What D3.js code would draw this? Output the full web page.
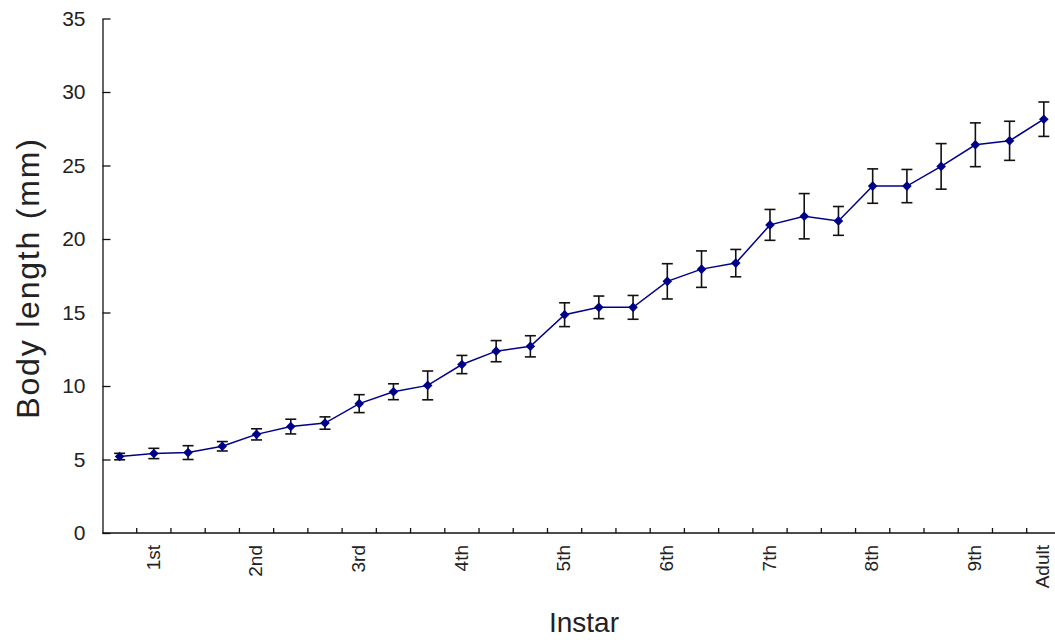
<!DOCTYPE html>
<meta charset="utf-8">
<style>
  body { margin: 0; background: #fff; }
  text { font-family: "Liberation Sans", Arial, sans-serif; fill: #222; }
</style>
<body>
<script src="https://cdn.jsdelivr.net/npm/d3@7/dist/d3.min.js"></script>
<script>

    // instar labels, one per measurement (blank = no label)
    var labels = ["", "1st", "", "", "2nd", "", "", "3rd", "", "", "4th", "", "", "5th",
                  "", "", "6th", "", "", "7th", "", "", "8th", "", "", "9th", "", "Adult"];

    // mean body length (mm)
    var means = [5.20, 5.41, 5.47, 5.90, 6.71, 7.24, 7.48, 8.80, 9.61, 10.04,
                 11.46, 12.37, 12.70, 14.85, 15.35, 15.35, 17.12, 17.95, 18.36, 20.96,
                 21.55, 21.23, 23.60, 23.60, 24.94, 26.41, 26.68, 28.15];

    // standard deviation
    var errors = [0.22, 0.35, 0.47, 0.32, 0.38, 0.50, 0.42, 0.61, 0.54, 0.98,
                  0.62, 0.72, 0.72, 0.81, 0.77, 0.81, 1.20, 1.24, 0.93, 1.05,
                  1.54, 0.98, 1.17, 1.13, 1.55, 1.49, 1.33, 1.17];

    var yTicks = [0, 5, 10, 15, 20, 25, 30, 35];

    var width = 1055, height = 640;
    var plotLeft = 102.5, plotTop = 18.5, plotBottom = 533;
    var step = 34.23;

    var data = means.map(function (m, i) {
        return {i: i, label: labels[i], mean: m, err: errors[i]};
    });

    var svg = d3.select("body").append("svg")
        .attr("width", width)
        .attr("height", height);

    var x = d3.scaleBand()
        .domain(d3.range(means.length))
        .range([plotLeft, plotLeft + step * means.length])
        .padding(0);

    var y = d3.scaleLinear()
        .domain([0, 35])
        .range([plotBottom, plotTop]);

    // y axis, ticks inward
    var yAxis = svg.append("g")
        .attr("transform", "translate(" + plotLeft + ",0)")
        .call(d3.axisLeft(y).tickValues(yTicks).tickSize(-8).tickPadding(17).tickSizeOuter(0));
    yAxis.select(".domain").attr("stroke", "#111").attr("stroke-width", 1.3);
    yAxis.selectAll(".tick line").attr("stroke", "#111").attr("stroke-width", 1.3);
    yAxis.selectAll(".tick text")
        .attr("font-size", 21)
        .attr("font-family", "Liberation Sans, Arial, sans-serif")
        .attr("fill", "#222");

    // x axis: line + inward ticks at band boundaries
    svg.append("line")
        .attr("x1", plotLeft).attr("x2", width)
        .attr("y1", plotBottom).attr("y2", plotBottom)
        .attr("stroke", "#111").attr("stroke-width", 1.3);

    svg.append("g").selectAll("line")
        .data(d3.range(1, means.length))
        .enter().append("line")
        .attr("x1", function (d) { return x(d); })
        .attr("x2", function (d) { return x(d); })
        .attr("y1", plotBottom)
        .attr("y2", plotBottom - 5)
        .attr("stroke", "#111")
        .attr("stroke-width", 1.3);

    svg.append("g").selectAll("text")
        .data(data.filter(function (d) { return d.label !== ""; }))
        .enter().append("text")
        .attr("transform", function (d) {
            return "translate(" + (x(d.i) + x.bandwidth() / 2 - 1) + "," + (plotBottom + 12) + ") rotate(-90)";
        })
        .attr("text-anchor", "end")
        .attr("dy", "0.35em")
        .attr("font-size", 19)
        .text(function (d) { return d.label; });

    // axis titles
    svg.append("text")
        .attr("transform", "translate(39,278) rotate(-90)")
        .attr("text-anchor", "middle")
        .attr("font-size", 32)
        .attr("letter-spacing", 1.8)
        .text("Body length (mm)");

    svg.append("text")
        .attr("x", 584)
        .attr("y", 632)
        .attr("text-anchor", "middle")
        .attr("font-size", 28)
        .text("Instar");

    var cx = function (d) { return x(d.i) + x.bandwidth() / 2; };

    // error bars
    var eb = svg.append("g").attr("stroke", "#111").attr("stroke-width", 1.6);
    eb.selectAll(".v").data(data).enter().append("line")
        .attr("x1", cx).attr("x2", cx)
        .attr("y1", function (d) { return y(d.mean - d.err); })
        .attr("y2", function (d) { return y(d.mean + d.err); });
    eb.selectAll(".top").data(data).enter().append("line")
        .attr("x1", function (d) { return cx(d) - 5.5; })
        .attr("x2", function (d) { return cx(d) + 5.5; })
        .attr("y1", function (d) { return y(d.mean + d.err); })
        .attr("y2", function (d) { return y(d.mean + d.err); });
    eb.selectAll(".bot").data(data).enter().append("line")
        .attr("x1", function (d) { return cx(d) - 5.5; })
        .attr("x2", function (d) { return cx(d) + 5.5; })
        .attr("y1", function (d) { return y(d.mean - d.err); })
        .attr("y2", function (d) { return y(d.mean - d.err); });

    // mean line
    svg.append("path")
        .datum(data)
        .attr("fill", "none")
        .attr("stroke", "#000088")
        .attr("stroke-width", 1.5)
        .attr("d", d3.line()
            .x(cx)
            .y(function (d) { return y(d.mean); }));

    // diamond markers
    svg.append("g").selectAll("path")
        .data(data)
        .enter().append("path")
        .attr("transform", function (d) {
            return "translate(" + cx(d) + "," + y(d.mean) + ") rotate(45)";
        })
        .attr("d", d3.symbol().type(d3.symbolSquare).size(46))
        .attr("fill", "#000088");

</script>
</body>
